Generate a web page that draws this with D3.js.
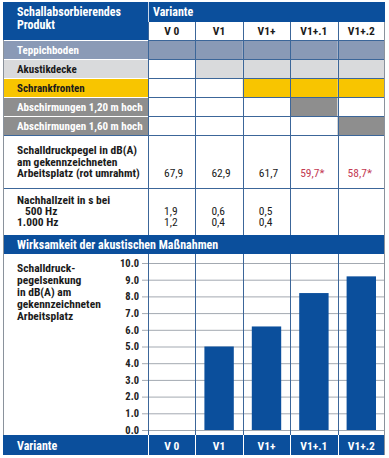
<!DOCTYPE html>
<meta charset="utf-8">
<style type="text/css">
body { margin: 0; background: #fff; }
svg text { font-family: "Liberation Sans Narrow", "Roboto Condensed", Roboto, sans-serif; font-weight: bold; }
.axis .domain { display: none; }
.axis line { stroke: #a3a9b1; stroke-width: 1; }
.axis text { fill: #222; font-size: 10.5px; }
</style>
<body>
<script src="https://d3js.org/d3.v7.min.js"></script>
<script>

// table + chart data
var variants = ["V 0", "V1", "V1+", "V1+.1", "V1+.2"];
var products = ["Teppichboden", "Akustikdecke", "Schrankfronten",
                "Abschirmungen 1,20 m hoch", "Abschirmungen 1,60 m hoch"];
// which product is used in which variant (rows = products, cols = variants)
var productUse = [
  [1, 1, 1, 1, 1],
  [0, 1, 1, 1, 1],
  [0, 0, 1, 1, 1],
  [0, 0, 0, 1, 0],
  [0, 0, 0, 0, 1]
];
var soundLevel = [67.9, 62.9, 61.7, 59.7, 58.7];
var soundLevelMarked = [false, false, false, true, true];
var reverb500 = [1.9, 0.6, 0.5, null, null];
var reverb1000 = [1.2, 0.4, 0.4, null, null];
var reduction = [0, 5.0, 6.2, 8.2, 9.2];
var yTicks = [0, 1, 2, 3, 4, 5, 6, 7, 8, 9, 10];

// colours
var blue = "#0b4f9c";
var lineBlue = "#3c6699";
var borderGray = "#8a929c";
var productFill = ["#8a9ab6", "#d9dadc", "#f8c500", "#8e8e8e", "#8e8e8e"];
var productText = ["#fff", "#1b1b1b", "#1b1b1b", "#fff", "#fff"];

var W = 389, H = 458;
var left = 3, right = 385, colStart = 148;
var fs = "11.5px", fsHead = "12px";

var de = d3.formatLocale({decimal: ",", thousands: ".", grouping: [3], currency: ["", "€"]});
var fmtDe = de.format(".1f");

var x = d3.scaleBand()
    .domain(variants)
    .range([colStart, right]);

var y = d3.scaleLinear()
    .domain([0, 10])
    .range([430, 263]);

var svg = d3.select("body").append("svg")
    .attr("width", W)
    .attr("height", H);

// ---- header ----
svg.append("rect").attr("x", left).attr("y", 2).attr("width", colStart - left).attr("height", 38).attr("fill", blue);
svg.append("rect").attr("x", colStart).attr("y", 2).attr("width", right - colStart).attr("height", 20).attr("fill", blue);
svg.append("line").attr("x1", colStart + 0.5).attr("x2", colStart + 0.5).attr("y1", 2).attr("y2", 40)
    .attr("stroke", "#c9d6e8").attr("stroke-width", 1);

svg.append("text").attr("x", 17).attr("y", 16).attr("fill", "#fff").style("font-size", fsHead).text("Schallabsorbierendes");
svg.append("text").attr("x", 17).attr("y", 29).attr("fill", "#fff").style("font-size", fsHead).text("Produkt");
svg.append("text").attr("x", 153).attr("y", 16).attr("fill", "#fff").style("font-size", fsHead).text("Variante");

svg.selectAll(".colhead")
    .data(variants)
  .enter().append("text")
    .attr("class", "colhead")
    .attr("x", function(d) { return x(d) + x.bandwidth() / 2; })
    .attr("y", 35)
    .attr("text-anchor", "middle")
    .attr("fill", "#1b1b1b")
    .style("font-size", fs)
    .text(function(d) { return d; });

// ---- product rows ----
var rowTop = 40, rowH = 19;
products.forEach(function(p, i) {
  var ry = rowTop + i * rowH;
  svg.append("rect").attr("x", left).attr("y", ry).attr("width", colStart - left).attr("height", rowH)
      .attr("fill", productFill[i]);
  svg.selectAll(".use" + i)
      .data(variants)
    .enter().append("rect")
      .attr("x", function(d) { return x(d); })
      .attr("y", ry)
      .attr("width", x.bandwidth())
      .attr("height", rowH)
      .attr("fill", function(d, j) { return productUse[i][j] ? productFill[i] : "#fff"; });
  svg.append("line").attr("x1", left).attr("x2", colStart).attr("y1", ry + 0.5).attr("y2", ry + 0.5)
      .attr("stroke", "#fff").attr("stroke-width", 1);
  svg.append("line").attr("x1", colStart).attr("x2", right).attr("y1", ry + 0.5).attr("y2", ry + 0.5)
      .attr("stroke", lineBlue).attr("stroke-width", 1);
});

// ---- sound level row ----
var slTop = rowTop + products.length * rowH; // 135
svg.append("line").attr("x1", left).attr("x2", right).attr("y1", slTop + 0.5).attr("y2", slTop + 0.5)
    .attr("stroke", lineBlue);
["Schalldruckpegel in dB(A)", "am gekennzeichneten", "Arbeitsplatz (rot umrahmt)"].forEach(function(t, i) {
  svg.append("text").attr("x", 17).attr("y", 154 + i * 11.5).attr("fill", "#1b1b1b")
      .style("font-size", fs).text(t);
});
svg.selectAll(".sl")
    .data(soundLevel)
  .enter().append("text")
    .attr("class", "sl")
    .attr("x", function(d, j) { return x(variants[j]) + (soundLevelMarked[j] ? 10 : 16); })
    .attr("y", 177)
    .attr("fill", function(d, j) { return soundLevelMarked[j] ? "#c33a52" : "#1b1b1b"; })
    .style("font-size", fs)
    .style("font-weight", "normal")
    .text(function(d, j) { return fmtDe(d) + (soundLevelMarked[j] ? "*" : ""); });

// ---- reverberation row ----
var rtTop = 188;
svg.append("line").attr("x1", left).attr("x2", right).attr("y1", rtTop + 0.5).attr("y2", rtTop + 0.5)
    .attr("stroke", lineBlue);
svg.append("text").attr("x", 17).attr("y", 203.5).attr("fill", "#1b1b1b").style("font-size", fs).text("Nachhallzeit in s bei");
svg.append("text").attr("x", 25).attr("y", 214.5).attr("fill", "#1b1b1b").style("font-size", fs).text("500 Hz");
svg.append("text").attr("x", 17).attr("y", 225.5).attr("fill", "#1b1b1b").style("font-size", fs).text("1.000 Hz");
[reverb500, reverb1000].forEach(function(arr, k) {
  svg.selectAll(".rt" + k)
      .data(arr)
    .enter().filter(function(d) { return d != null; }).append("text")
      .attr("x", function(d, j) { return x(variants[j]) + 16; })
      .attr("y", 214.5 + k * 11)
      .attr("fill", "#1b1b1b")
      .style("font-size", fs)
      .style("font-weight", "normal")
      .text(function(d) { return fmtDe(d); });
});

// ---- chart ----
svg.append("g")
    .attr("class", "axis")
    .attr("transform", "translate(" + right + ",0)")
    .call(d3.axisLeft(y).tickValues(yTicks).tickFormat(d3.format(".1f")).tickSize(right - 142).tickPadding(3));

["Schalldruck-", "pegelsenkung", "in dB(A) am", "gekennzeichneten", "Arbeitsplatz"].forEach(function(t, i) {
  svg.append("text").attr("x", 17).attr("y", 272 + i * 12).attr("fill", "#1b1b1b")
      .style("font-size", fs).text(t);
});

svg.selectAll(".bar")
    .data(reduction)
  .enter().append("rect")
    .attr("class", "bar")
    .attr("x", function(d, j) { return x(variants[j]) + x.bandwidth() * 0.19; })
    .attr("y", function(d) { return y(d); })
    .attr("width", x.bandwidth() * 0.62)
    .attr("height", function(d) { return y(0) - y(d); })
    .attr("fill", blue);

// ---- column separators (table part and chart part) ----
var seps = variants.map(function(d) { return x(d); });
[[22, 235], [254, 435]].forEach(function(span) {
  svg.selectAll(null)
      .data(seps)
    .enter().append("line")
      .attr("x1", function(d) { return Math.round(d) + 0.5; })
      .attr("x2", function(d) { return Math.round(d) + 0.5; })
      .attr("y1", span[0])
      .attr("y2", span[1])
      .attr("stroke", lineBlue);
});

// product labels drawn above the separators
products.forEach(function(p, i) {
  svg.append("text").attr("x", 17).attr("y", rowTop + i * rowH + 13.5).attr("fill", productText[i])
      .style("font-size", "11px").text(p);
});

// ---- section band ----
svg.append("rect").attr("x", left).attr("y", 235).attr("width", right - left).attr("height", 19).attr("fill", blue);
svg.append("text").attr("x", 17).attr("y", 249).attr("fill", "#fff").style("font-size", fsHead)
    .text("Wirksamkeit der akustischen Maßnahmen");

// ---- bottom band ----
svg.append("rect").attr("x", left).attr("y", 435).attr("width", right - left).attr("height", 20).attr("fill", blue);
svg.append("text").attr("x", 17).attr("y", 449.5).attr("fill", "#fff").style("font-size", fsHead).text("Variante");
svg.selectAll(".foot")
    .data(variants)
  .enter().append("text")
    .attr("x", function(d) { return x(d) + x.bandwidth() / 2; })
    .attr("y", 449.5)
    .attr("text-anchor", "middle")
    .attr("fill", "#fff")
    .style("font-size", fs)
    .text(function(d) { return d; });
svg.selectAll(".fsep")
    .data(seps)
  .enter().append("line")
    .attr("x1", function(d) { return Math.round(d) + 0.5; })
    .attr("x2", function(d) { return Math.round(d) + 0.5; })
    .attr("y1", 435)
    .attr("y2", 455)
    .attr("stroke", "#fff");

// outer borders
svg.append("line").attr("x1", left + 0.5).attr("x2", left + 0.5).attr("y1", 40).attr("y2", 435)
    .attr("stroke", borderGray);
svg.append("line").attr("x1", right - 0.5).attr("x2", right - 0.5).attr("y1", 22).attr("y2", 455)
    .attr("stroke", borderGray);

</script>
</body>
